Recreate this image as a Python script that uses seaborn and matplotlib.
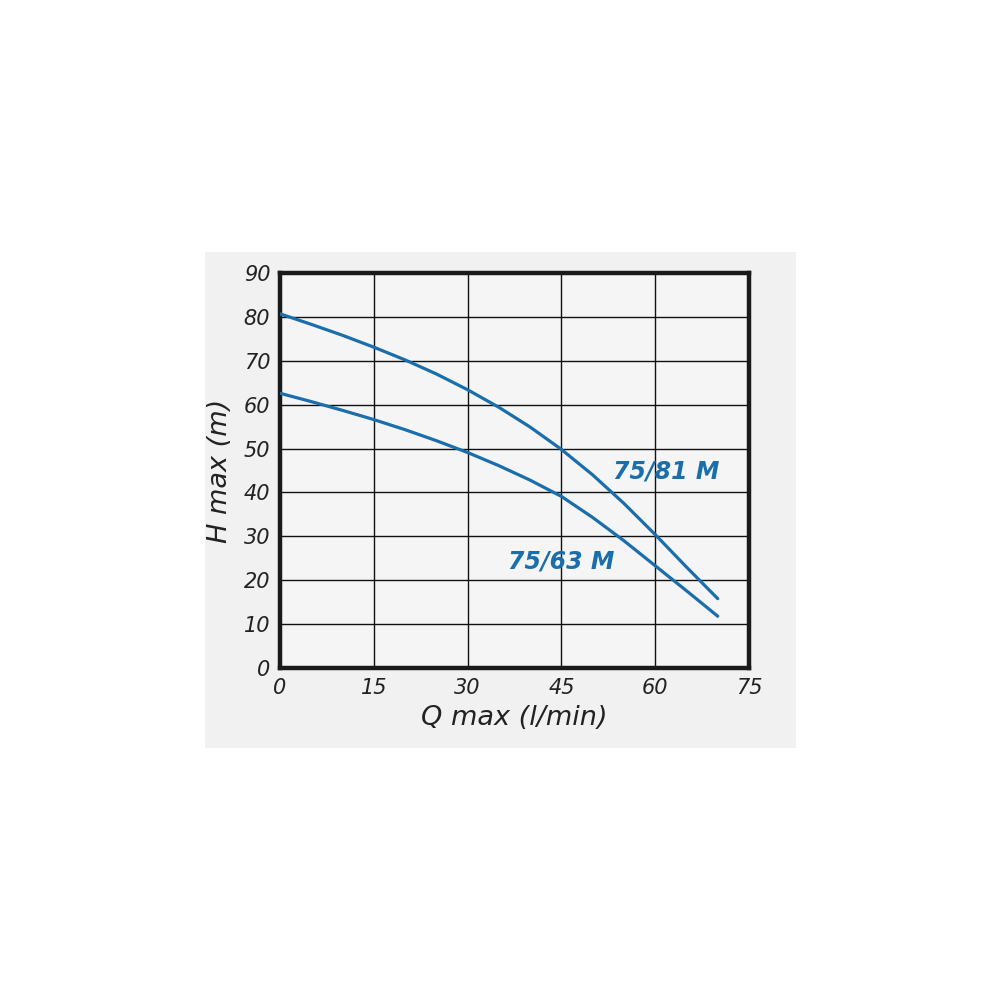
import numpy as np
import pandas as pd
import matplotlib
matplotlib.use("Agg")
import matplotlib.pyplot as plt
import seaborn as sns
from matplotlib.patches import Rectangle

# curves (Q in l/min, H in m)
q = [0, 5, 10, 15, 20, 25, 30, 35, 40, 45, 50, 55, 60, 65, 70]
h_81 = [80.7, 78.3, 75.8, 73.1, 70.2, 67.0, 63.4, 59.4, 54.9, 49.8, 44.0, 37.5, 30.4, 23.0, 15.8]
h_63 = [62.6, 60.7, 58.7, 56.6, 54.3, 51.8, 49.1, 46.1, 42.8, 39.1, 34.3, 29.0, 23.3, 17.6, 11.8]
models = ["75/81 M", "75/63 M"]
x_ticks = [0, 15, 30, 45, 60, 75]
y_ticks = [0, 10, 20, 30, 40, 50, 60, 70, 80, 90]

df = pd.concat([
    pd.DataFrame({"Q": q, "H": h_81, "model": models[0]}),
    pd.DataFrame({"Q": q, "H": h_63, "model": models[1]}),
])

sns.set_style("white")
plt.rcParams["font.family"] = ["DejaVu Sans"]

blue = "#1a6eab"
fig = plt.figure(figsize=(10, 10), dpi=100)
fig.patch.set_facecolor("white")
fig.add_artist(Rectangle((0.205, 0.252), 0.591, 0.496, transform=fig.transFigure,
                         facecolor="#f1f1f1", edgecolor="none", zorder=-5))

ax = fig.add_axes([0.280, 0.332, 0.469, 0.395])
ax.set_facecolor("#f5f5f5")
sns.lineplot(data=df, x="Q", y="H", hue="model", palette=[blue, blue],
             linewidth=2.3, legend=False, ax=ax, zorder=3)

ax.set_xlim(0, 75)
ax.set_ylim(0, 90)
ax.set_xticks(x_ticks)
ax.set_yticks(y_ticks)
ax.grid(True, color="#111111", linewidth=1.0)
ax.set_axisbelow(True)
for s in ax.spines.values():
    s.set_visible(True)
    s.set_color("#1a1a1a")
    s.set_linewidth(3.2)
ax.tick_params(length=0, labelsize=15, pad=7, colors="#222222")
for lab in ax.get_xticklabels() + ax.get_yticklabels():
    lab.set_fontstyle("italic")

ax.set_xlabel("Q max (l/min)", fontsize=19.5, fontstyle="italic", color="#222222", labelpad=5)
ax.set_ylabel("H max (m)", fontsize=19.5, fontstyle="italic", color="#222222", labelpad=8)

ax.text(61.7, 44.7, models[0], color=blue, fontsize=17, fontweight="bold",
        fontstyle="italic", ha="center", va="center")
ax.text(45.0, 24.2, models[1], color=blue, fontsize=17, fontweight="bold",
        fontstyle="italic", ha="center", va="center")

fig.savefig("out.png", dpi=100)
